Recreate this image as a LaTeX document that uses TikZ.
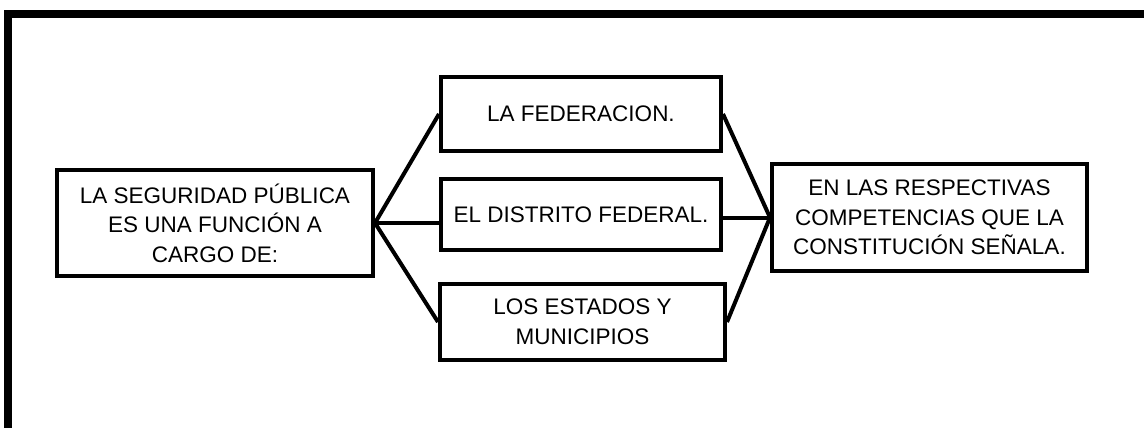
\documentclass[tikz,border=0pt]{standalone}
\usepackage{fontspec}
\setmainfont{Liberation Sans}
\usepackage{tikz}
\usetikzlibrary{positioning}

\tikzset{
  box/.style={draw=black, line width=4pt, align=center, inner sep=0pt,
    font=\fontsize{22.5}{29.5}\selectfont},
  link/.style={black, line width=4pt}
}

\begin{document}
\begin{tikzpicture}[x=1pt,y=-1pt]

  \useasboundingbox (0,0) rectangle (1144,428);

  % frame (only top and left sides show)
  \draw[line width=8pt] (8,428) -- (8,14) -- (1144,14);

  % left box
  \node[box, minimum width=316pt, minimum height=106pt] (seg) at (215,223)
    {LA SEGURIDAD PÚBLICA\\ES UNA FUNCIÓN A\\CARGO DE:};

  % middle column
  \node[box, minimum width=280pt, minimum height=74pt] (fed) at (581,114)
    {LA FEDERACION.};
  \node[box, minimum width=280pt, minimum height=71pt] (df) at (581,214.5)
    {EL DISTRITO FEDERAL.};
  \node[box, minimum width=285pt, minimum height=76pt] (est) at (582.5,322)
    {LOS ESTADOS Y\\MUNICIPIOS};

  % right box
  \node[box, minimum width=315pt, minimum height=107pt] (comp) at (929.5,217.5)
    {EN LAS RESPECTIVAS\\COMPETENCIAS QUE LA\\CONSTITUCIÓN SEÑALA.};

  % connectors
  \draw[link] (seg.east) -- (fed.west);
  \draw[link] (seg.east) -- (seg.east -| df.west);
  \draw[link] (seg.east) -- (est.west);
  \draw[link] (fed.east) -- (comp.west);
  \draw[link] (comp.west -| df.east) -- (comp.west);
  \draw[link] (est.east) -- (comp.west);

\end{tikzpicture}
\end{document}
